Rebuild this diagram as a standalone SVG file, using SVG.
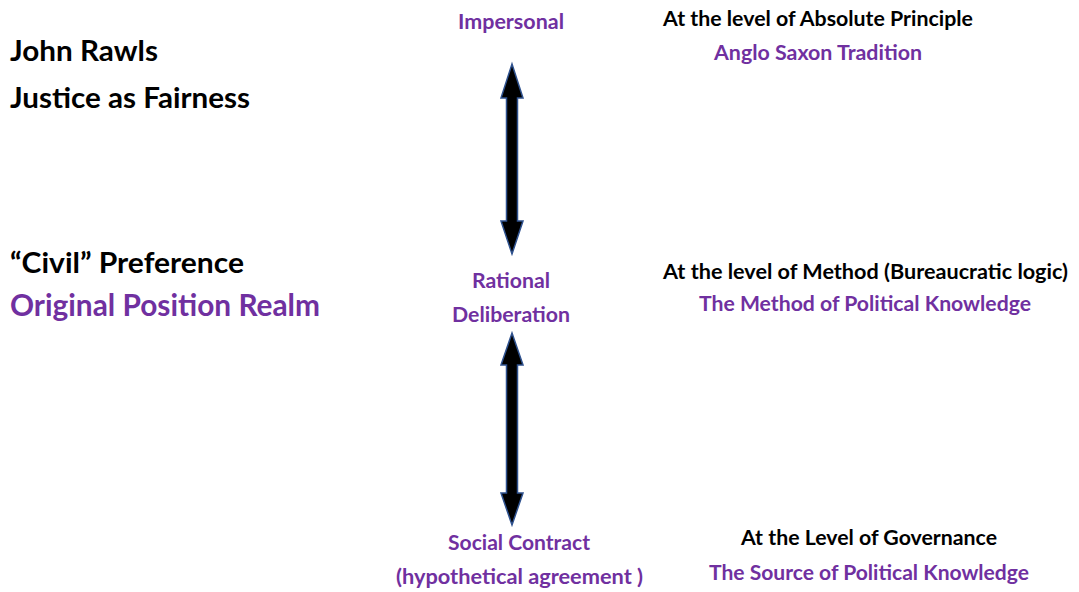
<svg xmlns="http://www.w3.org/2000/svg" width="1079" height="592" viewBox="0 0 1079 592">
<style>
text{font-family:Lato,"Open Sans","Liberation Sans",sans-serif;font-weight:bold}
.p{fill:#7030A0}
.k{fill:#000}
.m{font-size:21px;text-anchor:middle}
.big{font-size:28px}
.arr{fill:#000;stroke:#2F528F;stroke-width:1.5;stroke-linejoin:miter}
</style>
<rect width="1079" height="592" fill="#fff"/>
<g id="title">
<text class="k big" x="10" y="61" textLength="148" lengthAdjust="spacingAndGlyphs">John Rawls</text>
<text class="k big" x="10" y="108" textLength="240" lengthAdjust="spacingAndGlyphs">Justice as Fairness</text>
</g>
<g id="realm">
<text class="k big" x="10" y="273" textLength="234" lengthAdjust="spacingAndGlyphs">“Civil” Preference</text>
<text class="p big" x="10" y="316" textLength="310" lengthAdjust="spacingAndGlyphs" style="font-size:31px">Original Position Realm</text>
</g>
<g id="impersonal">
<text class="p m" x="511" y="29" textLength="106" lengthAdjust="spacingAndGlyphs">Impersonal</text>
</g>
<g id="rational">
<text class="p m" x="511" y="288" textLength="78" lengthAdjust="spacingAndGlyphs">Rational</text>
<text class="p m" x="511" y="322" textLength="118" lengthAdjust="spacingAndGlyphs">Deliberation</text>
</g>
<g id="social">
<text class="p m" x="519" y="550" textLength="142" lengthAdjust="spacingAndGlyphs">Social Contract</text>
<text class="p m" x="519.5" y="584" textLength="247" lengthAdjust="spacingAndGlyphs">(hypothetical agreement )</text>
</g>
<g id="absolute">
<text class="k m" x="818" y="26" textLength="310" lengthAdjust="spacingAndGlyphs">At the level of Absolute Principle</text>
<text class="p m" x="818" y="60" textLength="208" lengthAdjust="spacingAndGlyphs">Anglo Saxon Tradition</text>
</g>
<g id="method">
<text class="k m" x="865.5" y="279" textLength="405" lengthAdjust="spacingAndGlyphs">At the level of Method (Bureaucratic logic)</text>
<text class="p m" x="865" y="311" textLength="332" lengthAdjust="spacingAndGlyphs">The Method of Political Knowledge</text>
</g>
<g id="governance">
<text class="k m" x="869" y="545" textLength="256" lengthAdjust="spacingAndGlyphs">At the Level of Governance</text>
<text class="p m" x="869" y="580" textLength="320" lengthAdjust="spacingAndGlyphs">The Source of Political Knowledge</text>
</g>
<g id="connectors">
<polygon class="arr" points="512,64 523,98 517.5,98 517.5,221 523,221 512,254 501,221 506.5,221 506.5,98 501,98"/>
<polygon class="arr" points="512,333 523,365 517.5,365 517.5,493 523,493 512,525 501,493 506.5,493 506.5,365 501,365"/>
</g>
</svg>
